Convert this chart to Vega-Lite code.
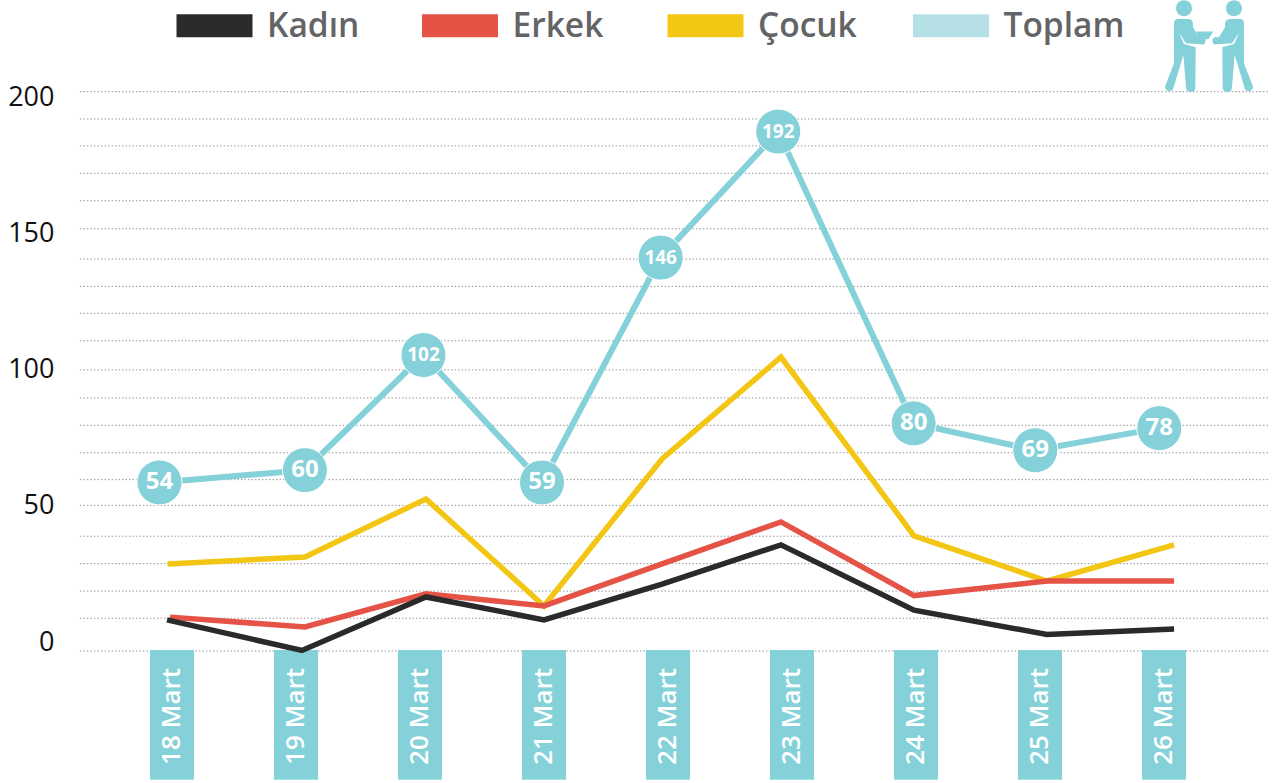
{
"$schema":"https://vega.github.io/schema/vega-lite/v6.json",
"width":1273,"height":783,"padding":0,"autosize":{"type":"none"},
"background":"white",
"config":{"view":{"stroke":null},"font":"Open Sans"},
"datasets":{
"series":[
{"series":"Çocuk","day":17.964,"value":31.1},{"series":"Çocuk","day":19.072,"value":33.6},{"series":"Çocuk","day":20.048,"value":54.3},{"series":"Çocuk","day":21.0,"value":16.1},{"series":"Çocuk","day":21.952,"value":68.6},{"series":"Çocuk","day":22.911,"value":105},{"series":"Çocuk","day":23.984,"value":41.1},{"series":"Çocuk","day":25.056,"value":25},{"series":"Çocuk","day":26.081,"value":37.9},
{"series":"Erkek","day":17.984,"value":12.1},{"series":"Erkek","day":19.072,"value":8.6},{"series":"Erkek","day":20.048,"value":20.4},{"series":"Erkek","day":21.0,"value":16.1},{"series":"Erkek","day":21.952,"value":31.1},{"series":"Erkek","day":22.911,"value":46.1},{"series":"Erkek","day":23.984,"value":19.8},{"series":"Erkek","day":25.056,"value":25},{"series":"Erkek","day":26.081,"value":25},
{"series":"Kadın","day":17.96,"value":11.1},{"series":"Kadın","day":19.048,"value":0.2},{"series":"Kadın","day":20.048,"value":19.3},{"series":"Kadın","day":21.0,"value":11.1},{"series":"Kadın","day":21.952,"value":23.9},{"series":"Kadın","day":22.911,"value":37.9},{"series":"Kadın","day":23.984,"value":14.6},{"series":"Kadın","day":25.056,"value":5.9},{"series":"Kadın","day":26.081,"value":7.9}
],
"total":[
{"day":17.899,"value":60.2,"label":54},{"day":19.072,"value":64.6,"label":60},{"day":20.028,"value":105.7,"label":102},{"day":20.984,"value":60.2,"label":59},{"day":21.941,"value":140.5,"label":146},{"day":22.889,"value":185.5,"label":192},{"day":23.981,"value":81.3,"label":80},{"day":24.962,"value":71.7,"label":69},{"day":25.962,"value":79.6,"label":78}
],
"dates":[
{"date":"18 Mart","day":18},{"date":"19 Mart","day":19},{"date":"20 Mart","day":20},{"date":"21 Mart","day":21},{"date":"22 Mart","day":22},{"date":"23 Mart","day":23},{"date":"24 Mart","day":24},{"date":"25 Mart","day":25},{"date":"26 Mart","day":26}
],
"grid":[{"level":199.75},{"level":190},{"level":180.4},{"level":170.6},{"level":160.8},{"level":150.8},{"level":140},{"level":130.2},{"level":120.6},{"level":110.8},{"level":100.4},{"level":90.4},{"level":80.6},{"level":70.8},{"level":61.2},{"level":52},{"level":41},{"level":31.2},{"level":21.4},{"level":11.7},{"level":0}],
"icon":[{"day":26.363,"value":216.1}]
},
"layer":[
{"data":{"name":"grid"},
 "mark":{"type":"rule","color":"#9a9a9a","strokeWidth":1,"strokeDash":[1.5,2]},
 "encoding":{
  "y":{"field":"level","type":"quantitative","scale":{"domain":[-47.14,232.5],"nice":false,"zero":false},
    "axis":{"values":[0,50,100,150,200],"title":null,"grid":false,"ticks":false,"domain":false,"labelAlign":"right","labelPadding":-54,"labelFontSize":27,"labelColor":"#111111","labelFont":"Open Sans","labelBaseline":"middle",
      "encoding":{"labels":{"dy":{"value":{"expr":"6-15*(1-datum.value/200)"}}}}}},
  "x":{"datum":17.258,"type":"quantitative","scale":{"domain":[16.6129,26.879],"nice":false,"zero":false,"padding":0},"axis":null},
  "x2":{"datum":26.839}
 }},
{"data":{"name":"dates"},
 "mark":{"type":"bar","color":"#85D1D9","size":44,"orient":"vertical"},
 "encoding":{"x":{"field":"day","type":"quantitative"},"y":{"datum":0.4},"y2":{"datum":-46}}},
{"data":{"name":"dates"},
 "mark":{"type":"text","color":"white","angle":270,"align":"left","baseline":"middle","fontSize":26,"fontWeight":600},
 "encoding":{"x":{"field":"day","type":"quantitative"},"y":{"datum":-40.7},"text":{"field":"date"}}},
{"data":{"name":"series"},
 "mark":{"type":"line","strokeWidth":5.5},
 "encoding":{
  "x":{"field":"day","type":"quantitative"},
  "y":{"field":"value","type":"quantitative"},
  "color":{"field":"series","type":"nominal",
   "scale":{"domain":["Kadın","Erkek","Çocuk","Toplam"],"range":["#2A2A2A","#E55347","#F3C614","#B5E1E6"]},
   "legend":{"title":null,"orient":"none","legendX":165,"legendY":-24,"direction":"horizontal","columns":4,"gridAlign":"all","columnPadding":-12.5,
     "symbolType":"M-1,0L1,0","symbolSize":5776,"symbolStrokeWidth":23,"labelFontSize":33.5,"labelFont":"Open Sans","labelFontWeight":600,"labelColor":"#636466","labelOffset":3,"labelLimit":300,
     "encoding":{"labels":{"dy":{"value":1.5}}}}}
 }},
{"data":{"name":"total"},
 "mark":{"type":"line","strokeWidth":6,"color":"#85D1D9"},
 "encoding":{"x":{"field":"day","type":"quantitative"},"y":{"field":"value","type":"quantitative"}}},
{"data":{"name":"total"},
 "mark":{"type":"point","shape":"circle","filled":true,"opacity":1,"color":"#85D1D9","size":2025,"stroke":"white","strokeWidth":1},
 "encoding":{"x":{"field":"day","type":"quantitative"},"y":{"field":"value","type":"quantitative"}}},
{"data":{"name":"total"},
 "mark":{"type":"text","color":"white","fontWeight":700,"align":"center","baseline":"middle"},
 "encoding":{"x":{"field":"day","type":"quantitative"},"y":{"field":"value","type":"quantitative"},"text":{"field":"label","type":"nominal"},
  "size":{"condition":{"test":"datum.label>=100","value":19},"value":24}}},
{"data":{"name":"icon"},
 "mark":{"type":"point","filled":true,"opacity":1,"color":"#85D1D9","size":0.444,
  "shape":"M-105,-68 Q-105,-81 -91,-81 L-61,-81 Q-49,-80 -48,-66 L-48,-56 L-30,-26 L-15,-26 Q-5,-16 -15,-4 L-69,-8 L-91,-40 L-75,-6 L-40,4 L-41,124 Q-41,138 -55,138 Q-69,138 -69,124 L-77,27 L-108,130 Q-117,140 -128,132 Q-135,124 -129,114 L-105,52 Z M105,-68 Q105,-81 91,-81 L61,-81 Q49,-80 48,-66 L48,-56 L30,-26 L15,-26 Q5,-16 15,-4 L69,-8 L91,-40 L75,-6 L40,4 L41,124 Q41,138 55,138 Q69,138 69,124 L77,27 L108,130 Q117,140 128,132 Q135,124 129,114 L105,52 Z M-51,-113 A24,24 0 1 0 -99,-113 A24,24 0 1 0 -51,-113 Z M99,-113 A24,24 0 1 0 51,-113 A24,24 0 1 0 99,-113 Z M-39,-43 L13,-43 L-2,-20 L-27,-20 Z"},
 "encoding":{"x":{"field":"day","type":"quantitative"},"y":{"field":"value","type":"quantitative"}}}
]
}
